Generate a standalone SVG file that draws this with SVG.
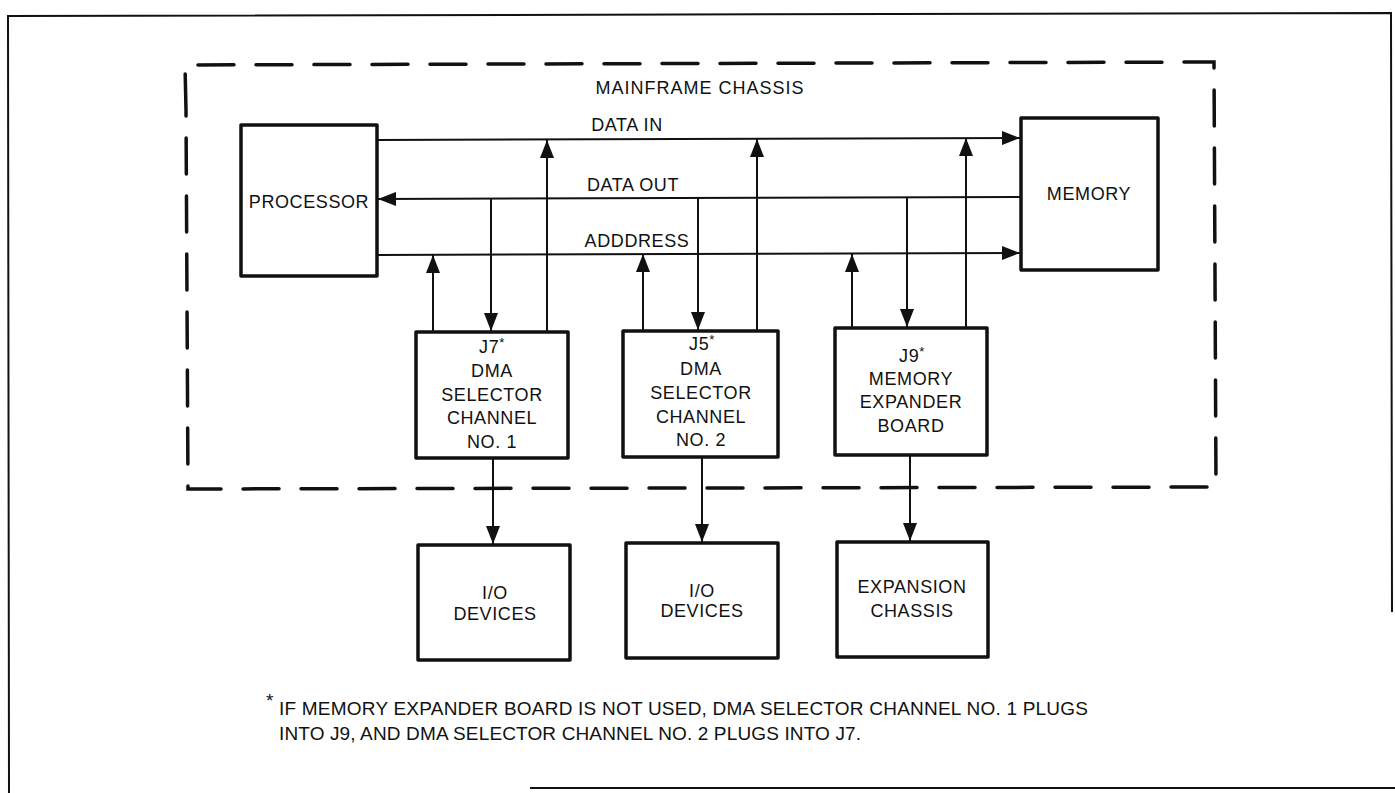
<svg xmlns="http://www.w3.org/2000/svg" width="1395" height="793" viewBox="0 0 1395 793">
<style>
  .t { font-family: "Liberation Sans", Arial, Helvetica, sans-serif; font-size: 18px; fill: #111; text-anchor: middle; letter-spacing: 0.6px; }
  .fn { font-family: "Liberation Sans", Arial, Helvetica, sans-serif; font-size: 19px; fill: #111; }
  .box { fill: #fff; stroke: #111; stroke-width: 3.5; stroke-linejoin: round; }
  .bus { stroke: #111; stroke-width: 2; fill: none; }
  .frame { stroke: #111; stroke-width: 2; fill: none; }
  .dash { stroke: #111; stroke-width: 3.5; fill: none; stroke-dasharray: 36 22; stroke-linecap: round; }
</style>
<defs>
  <marker id="ah" markerUnits="userSpaceOnUse" markerWidth="18" markerHeight="14" refX="18" refY="7" orient="auto">
    <path d="M0,0 L18,7 L0,14 z" fill="#111"/>
  </marker>
</defs>
<rect width="1395" height="793" fill="#fff"/>

<g id="border">
  <path class="frame" d="M9,793 L8,16 L1391,13 L1392,612"/>
  <path class="frame" d="M530,788 L1395,788"/>
</g>

<g id="mainframe-chassis">
  <path class="dash" d="M186,110 L185,65 L1214,62 L1216,487 L188,489 L186,110"/>
  <text class="t" x="700" y="94" style="letter-spacing:1px">MAINFRAME CHASSIS</text>
</g>

<g id="connectors">
  <line class="bus" x1="377" y1="140" x2="1020" y2="138" marker-end="url(#ah)"/>
  <line class="bus" x1="1021" y1="197" x2="378" y2="199" marker-end="url(#ah)"/>
  <line class="bus" x1="377" y1="255" x2="1020" y2="253" marker-end="url(#ah)"/>

  <line class="bus" x1="433" y1="332" x2="433" y2="255" marker-end="url(#ah)"/>
  <line class="bus" x1="491" y1="198" x2="491" y2="331" marker-end="url(#ah)"/>
  <line class="bus" x1="547" y1="332" x2="547" y2="140" marker-end="url(#ah)"/>

  <line class="bus" x1="643" y1="331" x2="643" y2="254" marker-end="url(#ah)"/>
  <line class="bus" x1="698" y1="198" x2="698" y2="330" marker-end="url(#ah)"/>
  <line class="bus" x1="757" y1="331" x2="757" y2="139" marker-end="url(#ah)"/>

  <line class="bus" x1="852" y1="328" x2="852" y2="254" marker-end="url(#ah)"/>
  <line class="bus" x1="907" y1="197" x2="907" y2="327" marker-end="url(#ah)"/>
  <line class="bus" x1="966" y1="328" x2="966" y2="138" marker-end="url(#ah)"/>

  <line class="bus" x1="493" y1="458" x2="493" y2="544" marker-end="url(#ah)"/>
  <line class="bus" x1="702" y1="457" x2="702" y2="542" marker-end="url(#ah)"/>
  <line class="bus" x1="910" y1="455" x2="910" y2="541" marker-end="url(#ah)"/>

  <text class="t" x="627" y="131">DATA IN</text>
  <text class="t" x="633" y="191">DATA OUT</text>
  <text class="t" x="637" y="247">ADDDRESS</text>
</g>

<g id="processor">
  <rect class="box" x="241" y="125" width="136" height="151"/>
  <text class="t" x="309" y="208">PROCESSOR</text>
</g>

<g id="memory">
  <rect class="box" x="1021" y="118" width="137" height="152"/>
  <text class="t" x="1089" y="200">MEMORY</text>
</g>

<g id="dma1">
  <rect class="box" x="416" y="332" width="152" height="126"/>
  <text class="t" x="492" y="353">J7<tspan font-size="13" dy="-6">*</tspan></text>
  <text class="t" x="492" y="377">DMA</text>
  <text class="t" x="492" y="401">SELECTOR</text>
  <text class="t" x="492" y="424">CHANNEL</text>
  <text class="t" x="492" y="448">NO. 1</text>
</g>

<g id="dma2">
  <rect class="box" x="623" y="331" width="155" height="126"/>
  <text class="t" x="702" y="350">J5<tspan font-size="13" dy="-6">*</tspan></text>
  <text class="t" x="701" y="375">DMA</text>
  <text class="t" x="701" y="399">SELECTOR</text>
  <text class="t" x="701" y="423">CHANNEL</text>
  <text class="t" x="701" y="446">NO. 2</text>
</g>

<g id="mem-expander">
  <rect class="box" x="835" y="328" width="152" height="127"/>
  <text class="t" x="912" y="362">J9<tspan font-size="13" dy="-6">*</tspan></text>
  <text class="t" x="911" y="385">MEMORY</text>
  <text class="t" x="911" y="408">EXPANDER</text>
  <text class="t" x="911" y="432">BOARD</text>
</g>

<g id="io1">
  <rect class="box" x="418" y="545" width="152" height="115"/>
  <text class="t" x="495" y="599">I/O</text>
  <text class="t" x="495" y="620">DEVICES</text>
</g>

<g id="io2">
  <rect class="box" x="626" y="543" width="152" height="115"/>
  <text class="t" x="702" y="597">I/O</text>
  <text class="t" x="702" y="617">DEVICES</text>
</g>

<g id="expansion">
  <rect class="box" x="837" y="542" width="151" height="115"/>
  <text class="t" x="912" y="593">EXPANSION</text>
  <text class="t" x="912" y="617">CHASSIS</text>
</g>

<g id="footnote">
  <text class="fn" x="266" y="707" font-size="13">*</text>
  <text class="fn" x="279" y="715" textLength="809" lengthAdjust="spacing">IF MEMORY EXPANDER BOARD IS NOT USED, DMA SELECTOR CHANNEL NO. 1 PLUGS</text>
  <text class="fn" x="279" y="740" textLength="582" lengthAdjust="spacing">INTO J9, AND DMA SELECTOR CHANNEL NO. 2 PLUGS INTO J7.</text>
</g>
</svg>
